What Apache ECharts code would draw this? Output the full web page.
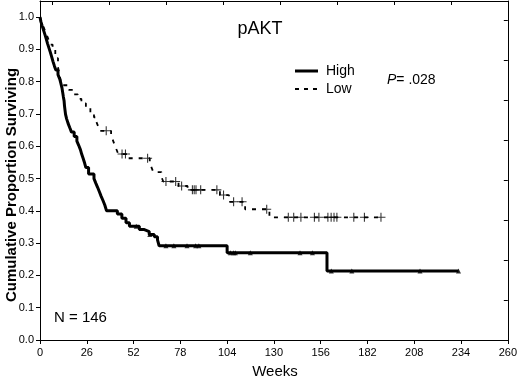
<!DOCTYPE html>
<html>
<head>
<meta charset="utf-8">
<script src="https://cdn.jsdelivr.net/npm/echarts@6/dist/echarts.min.js"></script>
<style>html,body{margin:0;padding:0;background:#fff}#c{width:520px;height:381px}</style>
</head>
<body>
<div id="c"></div>
<script>
// X axis ticks (weeks) and Y axis ticks
var xTicks = [0, 26, 52, 78, 104, 130, 156, 182, 208, 234, 260];
var yTicks = [0.0, 0.1, 0.2, 0.3, 0.4, 0.5, 0.6, 0.7, 0.8, 0.9, 1.0];

// High group: Kaplan-Meier steps (week at which survival changes, survival after)
var highWeeks = [0, 0.5, 1.2, 2.0, 2.8, 3.5, 4.2, 5.0, 5.8, 6.5, 7.2, 8.0, 8.8, 10.0, 11.0, 11.6, 12.2, 12.6, 13.0, 13.4, 13.6, 13.9, 14.2, 14.8, 15.6, 16.5, 17.5, 19.0, 20.5, 21.5, 22.5, 23.2, 24.0, 24.8, 25.5, 27.0, 30.0, 31.0, 32.0, 33.0, 34.0, 35.0, 36.0, 37.0, 43.0, 45.5, 47.8, 49.7, 55.2, 58.0, 60.7, 63.5, 65.3, 66.2, 104.0, 159.5, 232.6];
var highSurv  = [1.0, 0.986, 0.973, 0.959, 0.945, 0.932, 0.918, 0.904, 0.890, 0.877, 0.863, 0.849, 0.836, 0.822, 0.808, 0.795, 0.781, 0.767, 0.753, 0.740, 0.726, 0.712, 0.699, 0.685, 0.671, 0.658, 0.644, 0.630, 0.616, 0.603, 0.589, 0.575, 0.562, 0.548, 0.534, 0.514, 0.500, 0.486, 0.473, 0.459, 0.445, 0.432, 0.418, 0.400, 0.390, 0.377, 0.363, 0.352, 0.342, 0.336, 0.327, 0.320, 0.310, 0.292, 0.270, 0.214, 0.214];
// High group censored observations
var highCensWeeks = [53.5, 61.0, 70.0, 74.4, 81.7, 86.5, 88.3, 105.8, 107.6, 108.6, 116.9, 144.5, 151.4, 161.9, 173.3, 211.2, 232.6];
var highCensSurv  = [0.352, 0.327, 0.292, 0.292, 0.292, 0.292, 0.292, 0.270, 0.270, 0.270, 0.270, 0.270, 0.270, 0.214, 0.214, 0.214, 0.214];

// Low group: Kaplan-Meier steps
var lowWeeks = [0, 0.8, 1.8, 2.8, 3.8, 4.8, 5.5, 7.0, 8.5, 10.0, 11.0, 12.0, 16.0, 18.5, 21.0, 23.0, 25.5, 28.0, 30.0, 31.3, 32.3, 33.0, 39.5, 40.5, 41.5, 42.5, 43.5, 48.5, 61.0, 62.0, 63.0, 67.5, 68.5, 77.0, 82.0, 100.0, 105.0, 114.0, 127.5, 189.5];
var lowSurv  = [1.0, 0.986, 0.972, 0.958, 0.944, 0.930, 0.915, 0.900, 0.873, 0.845, 0.817, 0.789, 0.775, 0.761, 0.747, 0.733, 0.719, 0.704, 0.690, 0.676, 0.662, 0.648, 0.633, 0.619, 0.604, 0.590, 0.576, 0.563, 0.548, 0.534, 0.520, 0.505, 0.491, 0.477, 0.465, 0.449, 0.428, 0.405, 0.380, 0.380];
// Low group censored observations
var lowCensWeeks = [36.8, 45.6, 47.5, 59.8, 70.0, 75.4, 78.7, 84.7, 85.7, 86.7, 89.3, 98.3, 102.0, 107.6, 112.3, 126.0, 138.0, 141.0, 145.0, 152.5, 155.0, 160.0, 161.8, 163.4, 165.0, 174.4, 180.3, 189.5];
var lowCensSurv  = [0.648, 0.576, 0.576, 0.563, 0.491, 0.491, 0.477, 0.465, 0.465, 0.465, 0.465, 0.465, 0.449, 0.428, 0.428, 0.405, 0.380, 0.380, 0.380, 0.380, 0.380, 0.380, 0.380, 0.380, 0.380, 0.380, 0.380, 0.380];

function zip(a, b) { return a.map(function (v, i) { return [v, b[i]]; }); }

var FONT = '"Liberation Sans", Arial, sans-serif';
var plusPath = 'path://M4.4,0h1.2v4.4h4.4v1.2h-4.4v4.4h-1.2v-4.4h-4.4v-1.2h4.4z';

var chart = echarts.init(document.getElementById('c'), null, {renderer: 'canvas'});
chart.setOption({
  animation: false,
  backgroundColor: '#ffffff',
  grid: {left: 40, right: 9, top: 1, bottom: 41, containLabel: false},
  xAxis: [{
    type: 'value', position: 'bottom', min: xTicks[0], max: xTicks[xTicks.length - 1], interval: 26,
    axisLine: {show: true, onZero: false, lineStyle: {color: '#000', width: 1}},
    axisTick: {show: true, inside: false, length: 4, lineStyle: {color: '#000'}},
    axisLabel: {color: '#000', fontSize: 11, fontFamily: FONT, margin: 7},
    splitLine: {show: false}
  }, {
    type: 'value', position: 'top', min: 0, max: 8.22, interval: 1, inverse: true,
    axisLine: {show: true, onZero: false, lineStyle: {color: '#000', width: 1}},
    axisTick: {show: true, inside: true, length: 4, lineStyle: {color: '#000'}},
    axisLabel: {show: false}, splitLine: {show: false}
  }],
  yAxis: [{
    type: 'value', position: 'left', min: yTicks[0], max: 1.05, interval: 0.1,
    axisLine: {show: true, onZero: false, lineStyle: {color: '#000', width: 1}},
    axisTick: {show: true, inside: false, length: 4, lineStyle: {color: '#000'}},
    axisLabel: {color: '#000', fontSize: 11, fontFamily: FONT, margin: 6, showMaxLabel: false,
      formatter: function (v) { return v > 1.001 ? '' : v.toFixed(1); }},
    splitLine: {show: false}
  }, {
    type: 'value', position: 'right', min: 0, max: 8.48, interval: 1,
    axisLine: {show: true, onZero: false, lineStyle: {color: '#000', width: 1}},
    axisTick: {show: true, inside: true, length: 4, lineStyle: {color: '#000'}},
    axisLabel: {show: false}, splitLine: {show: false}
  }],
  series: [{
    name: 'High', type: 'line', step: 'end', data: zip(highWeeks, highSurv),
    showSymbol: false, lineStyle: {color: '#000', width: 3}, z: 3
  }, {
    name: 'Low', type: 'line', step: 'end', data: zip(lowWeeks, lowSurv),
    showSymbol: false, lineStyle: {color: '#000', width: 1.8, type: [4, 6]}, z: 2
  }, {
    name: 'High censored', type: 'scatter', data: zip(highCensWeeks, highCensSurv),
    symbol: 'triangle', symbolSize: 5, itemStyle: {color: '#000'}, z: 4
  }, {
    name: 'Low censored', type: 'scatter', data: zip(lowCensWeeks, lowCensSurv),
    symbol: plusPath, symbolSize: 9, itemStyle: {color: '#000'}, z: 4
  }],
  graphic: [
    {type: 'text', x: 260, y: 29, style: {text: 'pAKT', fontSize: 18, fontFamily: FONT, fill: '#000', textAlign: 'center', textVerticalAlign: 'middle'}},
    {type: 'line', shape: {x1: 295, y1: 71, x2: 318, y2: 71}, style: {stroke: '#000', lineWidth: 3}},
    {type: 'line', shape: {x1: 295, y1: 89, x2: 318, y2: 89}, style: {stroke: '#000', lineWidth: 1.8, lineDash: [4, 5]}},
    {type: 'text', x: 326, y: 71, style: {text: 'High', fontSize: 14, fontFamily: FONT, fill: '#000', textAlign: 'left', textVerticalAlign: 'middle'}},
    {type: 'text', x: 326, y: 89, style: {text: 'Low', fontSize: 14, fontFamily: FONT, fill: '#000', textAlign: 'left', textVerticalAlign: 'middle'}},
    {type: 'text', x: 387, y: 80, style: {text: '{i|P}= .028', fontSize: 14, fontFamily: FONT, fill: '#000', textAlign: 'left', textVerticalAlign: 'middle',
      rich: {i: {fontStyle: 'italic', fontSize: 14, fontFamily: FONT, fill: '#000'}}}},
    {type: 'text', x: 54, y: 318, style: {text: 'N = 146', fontSize: 15, fontFamily: FONT, fill: '#000', textAlign: 'left', textVerticalAlign: 'middle'}},
    {type: 'text', x: 275, y: 372, style: {text: 'Weeks', fontSize: 15, fontFamily: FONT, fill: '#000', textAlign: 'center', textVerticalAlign: 'middle'}},
    {type: 'text', x: 12, y: 185, rotation: Math.PI / 2, style: {text: 'Cumulative Proportion Surviving', fontSize: 15, fontWeight: 'bold', fontFamily: FONT, fill: '#000', textAlign: 'center', textVerticalAlign: 'middle'}}
  ]
});
</script>
</body>
</html>
